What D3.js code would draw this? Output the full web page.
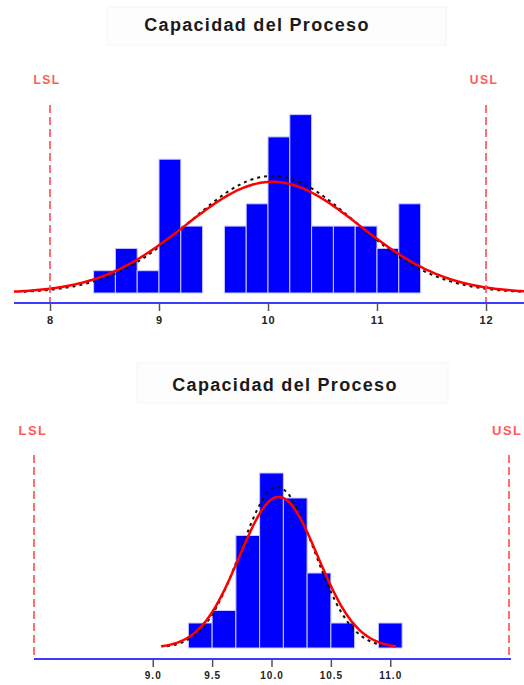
<!DOCTYPE html>
<html>
<head>
<meta charset="utf-8">
<script src="https://cdn.jsdelivr.net/npm/d3@7/dist/d3.min.js"></script>
<style>
  html, body { margin: 0; padding: 0; background: #fff; }
  svg { display: block; }
  text { font-family: Arial, "Liberation Sans", sans-serif; }
</style>
</head>
<body>
<svg id="chart" width="524" height="685"></svg>
<script>
// ---------- data ----------
const titleText = "Capacidad del Proceso";
const specLabels = ["LSL", "USL"];
const specLimits = [8, 12];

// top histogram (bin start, count), bin width 0.2
const topBinStarts = [8.4, 8.6, 8.8, 9.0, 9.2, 9.4, 9.6, 9.8, 10.0, 10.2, 10.4, 10.6, 10.8, 11.0, 11.2];
const topCounts    = [1,   2,   1,   6,   3,   0,   3,   4,   7,    8,    3,    3,    3,    2,    4];
const topTicks = [8, 9, 10, 11, 12];
const topFit = { mean: 10.04, sd: 0.80 };     // red fitted normal
const topAlt = { mean: 10.04, sd: 0.76 };     // black dotted curve

// bottom histogram
const botBinStarts = [9.3, 9.5, 9.7, 9.9, 10.1, 10.3, 10.5, 10.7, 10.9];
const botCounts    = [2,   3,   9,   14,  12,   6,    2,    0,    2];
const botTicks = [9.0, 9.5, 10.0, 10.5, 11.0];
const botFit = { mean: 10.06, sd: 0.33 };
const botAlt = { mean: 10.05, sd: 0.31 };

const binWidth = 0.2;

// ---------- drawing ----------
const svg = d3.select("#chart");

function normalCurve(p, n, bw, lo, hi, steps) {
  const pts = [];
  for (let i = 0; i <= steps; i++) {
    const x = lo + (hi - lo) * i / steps;
    const z = (x - p.mean) / p.sd;
    pts.push([x, n * bw * Math.exp(-0.5 * z * z) / (p.sd * Math.sqrt(2 * Math.PI))]);
  }
  return pts;
}

function panel(cfg) {
  const g = svg.append("g");
  const x = d3.scaleLinear().domain(cfg.xDomain).range(cfg.xRange);
  const y = d3.scaleLinear().domain([0, 1]).range([cfg.base, cfg.base - cfg.unit]);
  const total = d3.sum(cfg.counts);

  // title box
  g.append("rect")
    .attr("x", cfg.titleBox[0]).attr("y", cfg.titleBox[1])
    .attr("width", cfg.titleBox[2]).attr("height", cfg.titleBox[3])
    .attr("fill", "#fdfdfd").attr("stroke", "#f5f5f5");
  g.append("text")
    .attr("x", cfg.titleX).attr("y", cfg.titleY)
    .attr("text-anchor", "middle")
    .attr("font-size", 18).attr("font-weight", "bold")
    .attr("letter-spacing", "1.3px")
    .attr("fill", "#1a1a1a")
    .text(titleText);

  const clipId = "clip" + cfg.id;
  g.append("clipPath").attr("id", clipId)
    .append("rect")
    .attr("x", cfg.xRange[0]).attr("y", 0)
    .attr("width", cfg.xRange[1] - cfg.xRange[0]).attr("height", 685);

  // bars
  g.selectAll("rect.bar")
    .data(cfg.binStarts.map((s, i) => ({ s, c: cfg.counts[i] })).filter(d => d.c > 0))
    .join("rect")
    .attr("class", "bar")
    .attr("x", d => x(d.s))
    .attr("width", d => x(d.s + binWidth) - x(d.s))
    .attr("y", d => y(d.c))
    .attr("height", d => y(0) - y(d.c))
    .attr("fill", "#0000ff")
    .attr("stroke", "#c9c9ff")
    .attr("stroke-width", 1);

  const line = d3.line().x(d => x(d[0])).y(d => y(d[1])).curve(d3.curveBasis);

  // black dotted curve
  g.append("path")
    .attr("clip-path", `url(#${clipId})`)
    .attr("d", line(normalCurve(cfg.alt, total, binWidth, cfg.alt.mean - 3 * cfg.alt.sd, cfg.alt.mean + 3 * cfg.alt.sd, 200)))
    .attr("fill", "none").attr("stroke", "#111")
    .attr("stroke-width", 2).attr("stroke-dasharray", "3,4");
  // red fitted curve
  g.append("path")
    .attr("clip-path", `url(#${clipId})`)
    .attr("d", line(normalCurve(cfg.fit, total, binWidth, cfg.fit.mean - 3 * cfg.fit.sd, cfg.fit.mean + 3 * cfg.fit.sd, 200)))
    .attr("fill", "none").attr("stroke", "#ff0000")
    .attr("stroke-width", 2.5);

  // spec limit lines & labels
  specLimits.forEach((v, i) => {
    g.append("line")
      .attr("x1", x(v)).attr("x2", x(v))
      .attr("y1", cfg.specTop).attr("y2", cfg.axisY)
      .attr("stroke", "#ff4d4d").attr("stroke-width", 1.6)
      .attr("stroke-dasharray", "8,4");
    g.append("text")
      .attr("x", x(v) + cfg.labelDx[i]).attr("y", cfg.labelY)
      .attr("text-anchor", cfg.labelAnchor[i])
      .attr("font-size", cfg.labelSize).attr("font-weight", "bold")
      .attr("letter-spacing", "1.5px")
      .attr("fill", "#ff5a5a")
      .text(specLabels[i]);
  });

  // axis
  const ax = g.append("g")
    .attr("transform", `translate(0,${cfg.axisY + 1})`)
    .call(d3.axisBottom(x).tickValues(cfg.ticks).tickSize(7).tickPadding(5).tickFormat(cfg.fmt));
  ax.select(".domain").remove();
  ax.selectAll(".tick line").attr("stroke", "#555").attr("stroke-width", 1.5);
  ax.selectAll(".tick text")
    .attr("font-size", cfg.tickSize).attr("fill", "#222")
    .attr("font-weight", 600)
    .attr("font-family", "Arial, 'Liberation Sans', sans-serif")
    .attr("letter-spacing", "1px");

  g.append("line")
    .attr("x1", cfg.axisX[0]).attr("x2", cfg.axisX[1])
    .attr("y1", cfg.axisY).attr("y2", cfg.axisY)
    .attr("stroke", "#3c3cff").attr("stroke-width", 2);
}

panel({
  id: "top",
  binStarts: topBinStarts, counts: topCounts, ticks: topTicks,
  fit: topFit, alt: topAlt,
  xDomain: [8 - 36 / 109, 12 + 38 / 109], xRange: [14, 524],
  base: 293, unit: 22.3, axisY: 303, axisX: [14, 524],
  specTop: 105, labelY: 84, labelDx: [-3, -2], labelAnchor: ["middle", "middle"], labelSize: 12,
  titleBox: [107, 7, 339, 38], titleX: 257, titleY: 31,
  tickSize: 11, fmt: d3.format("d")
});

panel({
  id: "bot",
  binStarts: botBinStarts, counts: botCounts, ticks: botTicks,
  fit: botFit, alt: botAlt,
  xDomain: [8, 12], xRange: [34, 509],
  base: 648, unit: 12.5, axisY: 659, axisX: [34, 511],
  specTop: 455, labelY: 435, labelDx: [-1, -17], labelAnchor: ["middle", "start"], labelSize: 13,
  titleBox: [137, 363, 311, 40], titleX: 285, titleY: 391,
  tickSize: 10, fmt: d3.format(".1f")
});
</script>
</body>
</html>
